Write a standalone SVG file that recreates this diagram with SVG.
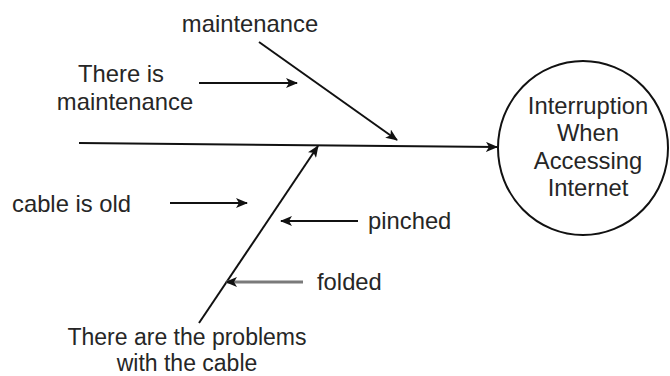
<svg xmlns="http://www.w3.org/2000/svg" width="670" height="376" viewBox="0 0 670 376">
  <style>
    .t { font-family: "Liberation Sans", Arial, sans-serif; font-size: 23.8px; fill: #262626; }
    .c { text-anchor: middle; }
    .s { font-size: 23px; }
    .ln { stroke: #111; stroke-width: 2; fill: none; }
    .grey { stroke: #7a7a7a; stroke-width: 3; }
  </style>
  <defs>
    <marker id="arr" viewBox="0 0 12 10" refX="11" refY="5" markerWidth="12" markerHeight="10" markerUnits="userSpaceOnUse" orient="auto">
      <path d="M0,0 L12,5 L0,10 L3,5 Z" fill="#111"/>
    </marker>
  </defs>

  <g id="connectors">
    <!-- spine -->
    <line class="ln" x1="79" y1="143" x2="497" y2="147" marker-end="url(#arr)"/>
    <!-- upper bone -->
    <line class="ln" x1="259" y1="42" x2="397" y2="140" marker-end="url(#arr)"/>
    <!-- lower bone -->
    <line class="ln" x1="199" y1="323" x2="318" y2="146" marker-end="url(#arr)"/>
    <!-- cause arrows -->
    <line class="ln" x1="199" y1="83" x2="297" y2="83" marker-end="url(#arr)"/>
    <line class="ln" x1="170" y1="203" x2="247" y2="203" marker-end="url(#arr)"/>
    <line class="ln" x1="358" y1="221" x2="281" y2="221" marker-end="url(#arr)"/>
    <line class="ln grey" x1="303" y1="282" x2="226" y2="282" marker-end="url(#arr)"/>
  </g>

  <g id="effect">
    <ellipse cx="583" cy="148" rx="85" ry="87" fill="#fff" stroke="#111" stroke-width="2"/>
    <text class="t c" x="588" y="114">Interruption</text>
    <text class="t c" x="588" y="141">When</text>
    <text class="t c" x="588" y="169">Accessing</text>
    <text class="t c" x="588" y="196">Internet</text>
  </g>

  <g id="label-maintenance">
    <text class="t c" x="250" y="32">maintenance</text>
  </g>
  <g id="label-there-is-maintenance">
    <text class="t c" x="121" y="82">There is</text>
    <text class="t c" x="125" y="110">maintenance</text>
  </g>
  <g id="label-cable-old">
    <text class="t" x="12" y="212">cable is old</text>
  </g>
  <g id="label-pinched">
    <text class="t" x="368" y="229">pinched</text>
  </g>
  <g id="label-folded">
    <text class="t" x="317" y="290">folded</text>
  </g>
  <g id="label-cable-problems">
    <text class="t s c" x="187" y="345">There are the problems</text>
    <text class="t s c" x="187" y="371">with the cable</text>
  </g>
</svg>
